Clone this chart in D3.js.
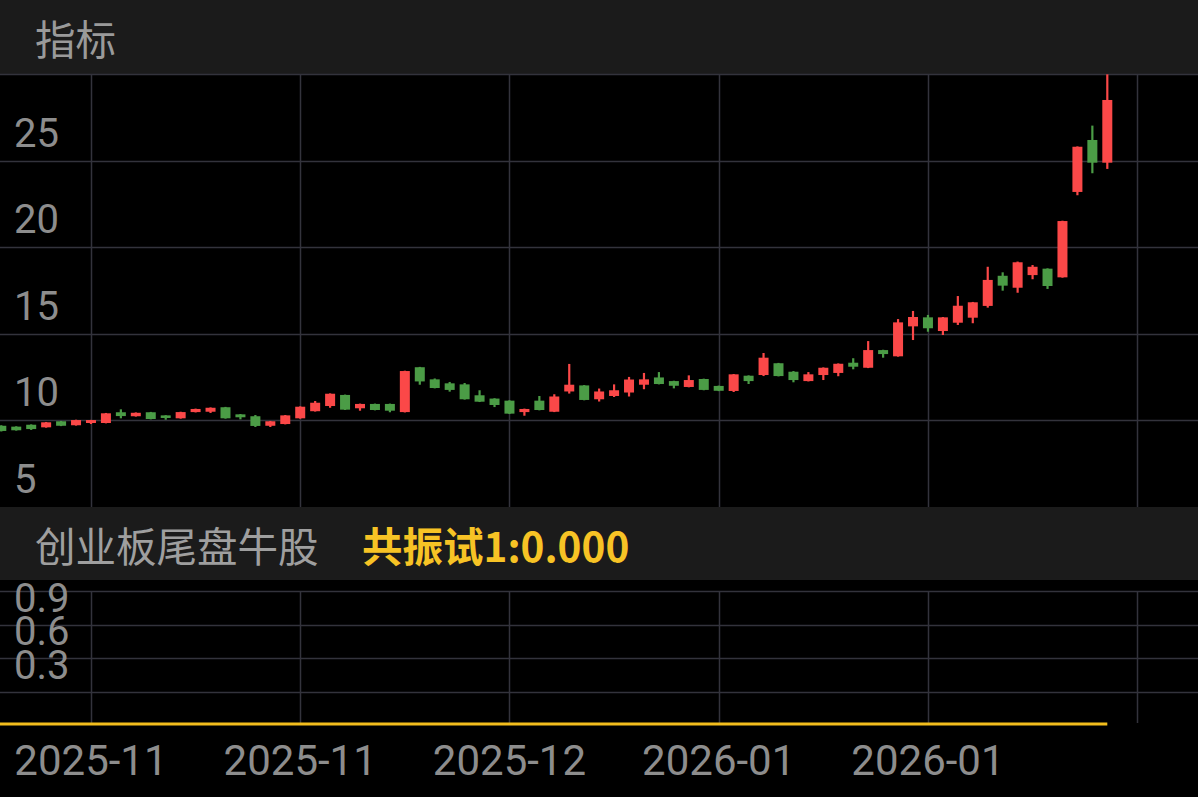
<!DOCTYPE html>
<html>
<head>
<meta charset="utf-8">
<script src="https://cdn.jsdelivr.net/npm/d3@7"></script>
<style>
	html, body { margin: 0; padding: 0; background: #000; }
	svg { display: block; }
</style>
</head>
<body>
<div id="chart"></div>
<script>
// daily candles, oldest first (open, close, high, low)
var opens  = [9.69,9.64,9.75,9.60,9.95,9.72,9.85,9.85,10.47,10.24,10.47,10.29,10.12,10.48,10.50,10.76,10.35,10.24,9.69,9.79,
	10.12,10.53,10.83,11.47,10.70,10.95,10.95,10.48,13.07,12.37,12.14,12.08,11.45,11.26,11.14,10.48,11.14,10.50,11.67,12.02,
	11.22,11.41,11.61,12.06,12.48,12.27,11.93,12.39,11.99,11.70,12.58,12.62,13.30,12.81,12.27,12.62,12.74,13.33,13.04,14.06,
	13.70,15.43,15.95,15.16,15.64,15.93,16.61,18.35,17.66,18.39,18.76,18.26,23.19,26.19,24.88];
var closes = [9.39,9.43,9.50,9.89,9.69,10.02,10.02,10.41,10.25,10.44,10.08,10.14,10.48,10.66,10.73,10.12,10.18,9.68,9.95,10.29,
	10.79,11.02,11.54,10.62,10.95,10.60,10.56,12.85,12.25,11.87,11.76,11.22,11.08,10.89,10.39,10.66,10.60,11.38,12.06,11.18,
	11.67,11.74,12.36,12.37,12.10,12.00,12.33,11.76,11.71,12.66,12.27,13.62,12.56,12.33,12.66,13.04,13.27,13.10,14.06,13.83,
	15.66,15.97,15.32,15.95,16.62,16.82,18.11,17.78,19.13,18.87,17.76,21.51,25.80,24.88,28.50];
var highs  = [9.72,9.66,9.77,9.91,9.97,10.04,10.03,10.43,10.64,10.46,10.49,10.30,10.50,10.68,10.75,10.78,10.37,10.31,9.97,10.31,
	10.81,11.12,11.56,11.49,10.97,10.97,10.97,12.87,13.09,12.42,12.22,12.16,11.74,11.28,11.16,10.68,11.41,11.51,13.26,12.04,
	11.84,12.08,12.51,12.74,12.79,12.29,12.60,12.41,12.01,12.68,12.60,13.89,13.32,12.85,12.79,13.06,13.29,13.59,14.58,14.08,
	15.85,16.32,16.09,15.97,17.18,16.84,18.87,18.55,19.17,18.97,18.78,21.53,25.82,27.02,29.98];
var lows   = [9.36,9.41,9.45,9.58,9.67,9.70,9.79,9.83,10.12,10.22,10.06,10.04,10.10,10.46,10.43,10.10,10.06,9.62,9.62,9.77,
	10.10,10.51,10.73,10.60,10.56,10.58,10.47,10.46,12.06,11.85,11.66,11.20,11.06,10.77,10.37,10.27,10.58,10.48,11.55,11.16,
	11.09,11.35,11.38,11.80,12.08,11.85,11.91,11.74,11.69,11.64,12.10,12.56,12.54,12.20,12.25,12.33,12.55,12.95,13.02,13.62,
	13.68,14.64,15.12,14.93,15.51,15.61,16.51,17.49,17.37,18.15,17.59,18.24,23.00,24.27,24.52];
// indicator series: 共振试1 stays at zero
var signal = opens.map(function () { return 0; });

var priceTicks = [5, 10, 15, 20, 25];
var priceGrid = [10, 15, 20, 25, 30];
var sigTicks = [0.3, 0.6, 0.9];
var sigGrid = [0.3, 0.6, 0.9, 1.2];
var dateTickIdx = [6, 20, 34, 48, 62, 76];
var dateLabels = ['2025-11', '2025-11', '2025-12', '2026-01', '2026-01', ''];

var W = 1198, H = 797;
var red = '#fb4848', green = '#4b9c46', gridColor = '#33333c', labelColor = '#8d8d8d';
var cnFont = '"Noto Sans CJK SC", "Noto Sans", sans-serif';
var numFont = 'Roboto, "Noto Sans", sans-serif';

var svg = d3.select('#chart').append('svg')
	.attr('width', W)
	.attr('height', H);

svg.append('rect').attr('width', W).attr('height', H).attr('fill', '#000');

var x = d3.scaleLinear().domain([0, 80]).range([1.3, 1.3 + 80 * 14.946]);
var y = d3.scaleLinear().domain([5, 30]).range([507, 74]);
var y2 = d3.scaleLinear().domain([0, 1.2]).range([725, 591]);

// header bars
svg.append('rect').attr('x', 0).attr('y', 0).attr('width', W).attr('height', 74).attr('fill', '#1b1b1b');
svg.append('rect').attr('x', 0).attr('y', 507).attr('width', W).attr('height', 73).attr('fill', '#1b1b1b');

svg.append('text')
	.attr('x', 35).attr('y', 37)
	.attr('dominant-baseline', 'central')
	.style('font-family', cnFont).style('font-size', '40.5px')
	.attr('fill', '#9a9a9a')
	.text('指标');

svg.append('text')
	.attr('x', 35).attr('y', 544)
	.attr('dominant-baseline', 'central')
	.style('font-family', cnFont).style('font-size', '40.5px')
	.attr('fill', '#9f9f9f')
	.text('创业板尾盘牛股');

svg.append('text')
	.attr('x', 362).attr('y', 544)
	.attr('dominant-baseline', 'central')
	.style('font-family', cnFont).style('font-size', '40.5px').style('font-weight', 'bold')
	.attr('fill', '#f7c325')
	.text('共振试1:' + d3.format('.3f')(signal[signal.length - 1]));

// grids
var main = svg.append('g');
main.selectAll('.hgrid').data(priceGrid).enter().append('line')
	.attr('x1', 0).attr('x2', W)
	.attr('y1', function (d) { return Math.round(y(d)) + 0.5; })
	.attr('y2', function (d) { return Math.round(y(d)) + 0.5; })
	.style('stroke', gridColor).style('stroke-width', 1.5);
main.selectAll('.vgrid').data(dateTickIdx).enter().append('line')
	.attr('x1', function (d) { return Math.round(x(d)) + 0.5; })
	.attr('x2', function (d) { return Math.round(x(d)) + 0.5; })
	.attr('y1', y(30)).attr('y2', y(5))
	.style('stroke', gridColor).style('stroke-width', 1.5);

var lower = svg.append('g');
lower.selectAll('.hgrid').data(sigGrid).enter().append('line')
	.attr('x1', 0).attr('x2', W)
	.attr('y1', function (d) { return Math.round(y2(d)) + 0.5; })
	.attr('y2', function (d) { return Math.round(y2(d)) + 0.5; })
	.style('stroke', gridColor).style('stroke-width', 1.5);
lower.selectAll('.vgrid').data(dateTickIdx).enter().append('line')
	.attr('x1', function (d) { return Math.round(x(d)) + 0.5; })
	.attr('x2', function (d) { return Math.round(x(d)) + 0.5; })
	.attr('y1', y2(1.2)).attr('y2', y2(0) - 2)
	.style('stroke', gridColor).style('stroke-width', 1.5);

// candles
var candles = main.selectAll('.candle').data(opens).enter().append('g');
candles.append('line')
	.attr('x1', function (d, i) { return x(i); })
	.attr('x2', function (d, i) { return x(i); })
	.attr('y1', function (d, i) { return y(highs[i]); })
	.attr('y2', function (d, i) { return y(lows[i]); })
	.style('stroke', function (d, i) { return closes[i] >= opens[i] ? red : green; })
	.style('stroke-width', 2.2);
candles.append('rect')
	.attr('x', function (d, i) { return x(i) - 5; })
	.attr('width', 10)
	.attr('y', function (d, i) { return y(Math.max(opens[i], closes[i])); })
	.attr('height', function (d, i) { return Math.max(1.5, Math.abs(y(opens[i]) - y(closes[i]))); })
	.attr('fill', function (d, i) { return closes[i] >= opens[i] ? red : green; });

// axis labels
main.selectAll('.ylab').data(priceTicks).enter().append('text')
	.attr('x', 14)
	.attr('y', function (d) { return y(d) - 14; })
	.style('font-family', numFont).style('font-size', '40px')
	.attr('fill', labelColor)
	.text(function (d) { return d; });

lower.selectAll('.ylab').data(sigTicks).enter().append('text')
	.attr('x', 14)
	.attr('y', function (d) { return y2(d) - 13; })
	.style('font-family', numFont).style('font-size', '40px')
	.attr('fill', labelColor)
	.text(function (d) { return d3.format('.1f')(d); });

// signal line
lower.append('path')
	.datum(signal)
	.attr('d', d3.line().x(function (d, i) { return i === 0 ? 0 : x(i); }).y(function (d) { return y2(d) - 1; }))
	.style('fill', 'none').style('stroke', '#f2bd1d').style('stroke-width', 3);

// date labels
svg.selectAll('.xlab').data(dateTickIdx).enter().append('text')
	.attr('x', function (d) { return x(d); })
	.attr('y', 760)
	.attr('text-anchor', 'middle')
	.attr('dominant-baseline', 'central')
	.style('font-family', numFont).style('font-size', '42px')
	.attr('fill', labelColor)
	.text(function (d, i) { return dateLabels[i]; });
</script>
</body>
</html>
